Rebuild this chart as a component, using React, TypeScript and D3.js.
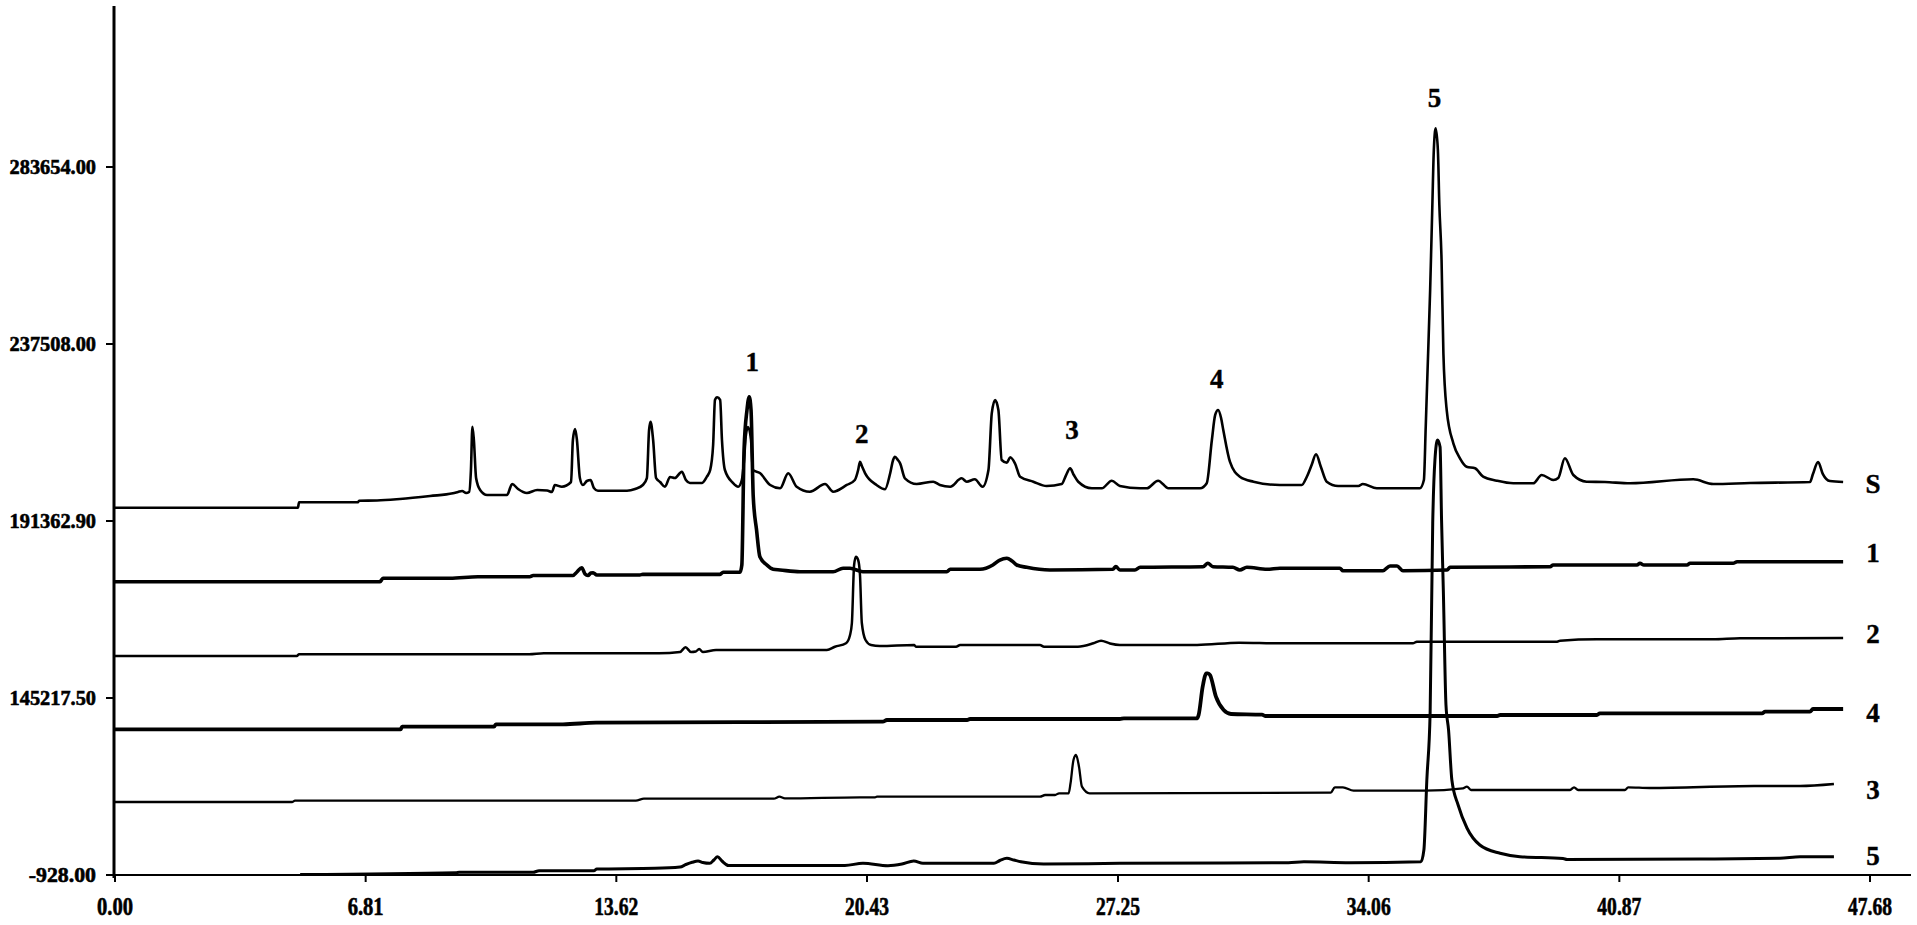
import React from 'react';
import * as d3 from 'd3';

const W = 1917;
const H = 925;

const xTickValues = [0, 6.81, 13.62, 20.43, 27.25, 34.06, 40.87, 47.68];
const xTickLabels = ['0.00', '6.81', '13.62', '20.43', '27.25', '34.06', '40.87', '47.68'];
const yTickValues = [-928, 145217.5, 191362.9, 237508, 283654];
const yTickLabels = ['-928.00', '145217.50', '191362.90', '237508.00', '283654.00'];

type Pt = [number, number];

const traceS: Pt[] = [
  [0, 194830], [4.97, 194830], [5.0, 196240], [6.6, 196240], [6.63, 196650], [7.12, 196710], [7.74, 197100], [8.56, 197880],
  [9.18, 198580], [9.32, 198920], [9.43, 199180], [9.54, 198660], [9.62, 198920], [9.67, 204660], [9.71, 215950], [9.75, 212480],
  [9.81, 202570], [9.92, 199440], [10.11, 198140], [10.65, 198140], [10.79, 201010], [10.95, 199700], [11.19, 198660], [11.47, 199440],
  [11.74, 199310], [11.87, 198920], [11.95, 200750], [12.14, 200300], [12.39, 201530], [12.44, 212480], [12.5, 215350], [12.55, 212480],
  [12.63, 202570], [12.71, 200750], [12.82, 201790], [12.92, 202050], [13.01, 199960], [13.12, 199260], [13.91, 199260], [14.13, 199700],
  [14.34, 200750], [14.45, 202570], [14.51, 215090], [14.55, 217250], [14.62, 212480], [14.7, 202570], [14.81, 201530], [14.94, 200300],
  [15.08, 202830], [15.21, 202570], [15.4, 204210], [15.51, 202050], [15.62, 201270], [15.95, 201270], [16.08, 202910], [16.17, 204660],
  [16.25, 211170], [16.3, 222910], [16.36, 223610], [16.44, 222910], [16.49, 212480], [16.57, 204660], [16.79, 201270], [16.93, 200300],
  [17.03, 202050], [17.09, 207260], [17.14, 213780], [17.2, 215870], [17.28, 212480], [17.33, 204660], [17.52, 203880], [17.8, 200750],
  [18.07, 199890], [18.29, 203800], [18.52, 200300], [18.88, 199000], [19.29, 201010], [19.51, 199000], [19.88, 200750], [20.1, 202050],
  [20.19, 204660], [20.24, 206820], [20.29, 205700], [20.38, 203800], [20.69, 200750], [20.92, 199630], [21.06, 203800], [21.14, 207260],
  [21.19, 208120], [21.27, 207260], [21.33, 206400], [21.46, 202490], [21.78, 201010], [22.23, 201610], [22.41, 200750], [22.69, 200300],
  [23.0, 202490], [23.14, 201610], [23.36, 202230], [23.57, 200300], [23.73, 204660], [23.82, 219440], [23.91, 222910], [24.0, 220300],
  [24.09, 207260], [24.23, 206560], [24.32, 207970], [24.45, 206400], [24.59, 202910], [24.95, 201610], [25.31, 200490], [25.72, 201010],
  [25.84, 203350], [25.95, 205100], [26.05, 203350], [26.17, 201610], [26.54, 199890], [26.81, 199890], [27.08, 201870], [27.3, 200490],
  [27.85, 199890], [28.03, 199890], [28.34, 201870], [28.62, 199890], [29.48, 199890], [29.66, 201190], [29.8, 212480], [29.89, 219000],
  [29.97, 220300], [30.05, 218210], [30.11, 215090], [30.29, 206820], [30.56, 202910], [30.93, 201610], [31.65, 200750], [32.24, 200750],
  [32.38, 202910], [32.51, 205960], [32.63, 208750], [32.76, 205520], [32.92, 201610], [33.23, 200490], [33.78, 200490], [33.9, 201010],
  [34.28, 199890], [35.45, 199890], [35.56, 202050], [35.61, 215950], [35.66, 230730], [35.73, 251580], [35.79, 273740], [35.83, 288080],
  [35.88, 293740], [35.94, 288080], [35.98, 273740], [36.04, 259400], [36.09, 235080], [36.18, 220300], [36.36, 211620], [36.54, 207710],
  [36.72, 205520], [36.95, 205100], [37.17, 202910], [37.54, 201870], [37.99, 201190], [38.53, 201190], [38.76, 203350], [39.08, 202050],
  [39.21, 202570], [39.39, 207710], [39.62, 203350], [39.98, 201610], [40.48, 201530], [41.16, 201190], [42.88, 202230], [43.42, 201010],
  [44.42, 201270], [46.05, 201530], [46.13, 203610], [46.27, 206740], [46.4, 203610], [46.59, 201790], [46.95, 201530],
];

const trace1: Pt[] = [
  [0, 175540], [7.2, 175540], [7.28, 176420], [9.1, 176420], [9.86, 176840], [11.27, 176840], [11.36, 177150], [12.44, 177150],
  [12.55, 178070], [12.68, 179190], [12.77, 177540], [12.85, 177150], [12.93, 177810], [12.99, 177880], [13.09, 177280], [14.26, 177280],
  [14.34, 177460], [16.44, 177460], [16.52, 177990], [16.98, 177990], [17.03, 179890], [17.09, 209870], [17.17, 220300], [17.23, 223770],
  [17.28, 220300], [17.34, 197700], [17.43, 189020], [17.52, 182050], [17.71, 179890], [17.88, 178770], [18.07, 178590], [18.61, 178140],
  [19.51, 178140], [19.78, 179030], [19.97, 179030], [20.32, 178140], [22.6, 178140], [22.69, 178770], [23.5, 178770], [23.85, 179890],
  [24.04, 181190], [24.23, 181640], [24.37, 180930], [24.5, 179890], [24.77, 179290], [25.4, 178590], [27.11, 178770], [27.19, 179500],
  [27.3, 178590], [27.71, 178590], [27.85, 179290], [29.56, 179450], [29.69, 180330], [29.83, 179450], [30.37, 179290], [30.56, 178590],
  [30.75, 179290], [31.3, 178770], [31.65, 179030], [33.28, 179030], [33.36, 178410], [34.45, 178410], [34.64, 179630], [34.83, 179630],
  [34.99, 178410], [36.19, 178590], [36.27, 179290], [38.99, 179450], [39.07, 179890], [41.35, 179890], [41.43, 180330], [41.54, 179890],
  [42.71, 179890], [42.79, 180330], [43.96, 180330], [44.07, 180750], [46.95, 180750],
];

const trace2: Pt[] = [
  [0, 156170], [4.94, 156170], [5.0, 156610], [11.25, 156610], [11.65, 156870], [14.78, 156870], [15.35, 157210], [15.5, 158440],
  [15.65, 157210], [15.78, 157340], [15.87, 157990], [15.97, 157210], [16.33, 157730], [19.34, 157730], [19.56, 158590], [19.86, 159480],
  [19.97, 161640], [20.02, 164770], [20.08, 179890], [20.13, 182050], [20.19, 181190], [20.24, 177280], [20.29, 164770], [20.39, 160340],
  [20.54, 159030], [20.78, 158770], [21.71, 159030], [21.76, 158590], [22.85, 158590], [22.96, 159030], [25.13, 159030], [25.24, 158590],
  [26.16, 158590], [26.58, 159480], [26.79, 160160], [27.03, 159430], [27.3, 159030], [29.4, 159030], [30.54, 159630], [31.65, 159480],
  [35.26, 159480], [35.37, 159900], [39.18, 159900], [39.26, 160160], [40.26, 160520], [43.41, 160520], [44.15, 160780], [46.95, 160860],
];

const trace4: Pt[] = [
  [0, 119380], [7.76, 119380], [7.8, 121530], [10.3, 121530], [10.35, 123510], [12.17, 123510], [13.07, 124830], [20.86, 125660],
  [20.97, 127060], [23.15, 127060], [23.23, 127880], [27.3, 127880], [27.41, 128460], [29.4, 128460], [29.44, 131180], [29.55, 148160],
  [29.65, 151660], [29.69, 151660], [29.75, 151210], [29.91, 145560], [30.12, 135310], [30.32, 132010], [31.16, 131430], [31.26, 130360],
  [37.55, 130360], [37.63, 131180], [40.26, 131180], [40.34, 132590], [44.75, 132590], [44.83, 133910], [46.05, 133910], [46.13, 136140],
  [46.95, 136140],
];

const trace3: Pt[] = [
  [0, 59350], [4.81, 59350], [4.89, 60420], [14.15, 60420], [14.37, 62070], [17.9, 62070], [18.05, 63720], [18.2, 62400],
  [20.24, 63230], [20.65, 63230], [20.7, 63720], [25.13, 63720], [25.27, 65130], [25.54, 65130], [25.65, 66530], [25.91, 66530],
  [25.96, 74790], [26.04, 94030], [26.11, 98160], [26.19, 88500], [26.27, 71990], [26.48, 66530], [33.03, 67030], [33.14, 71480],
  [33.36, 71480], [33.65, 68670], [35.59, 68670], [36.62, 70660], [36.73, 71990], [36.84, 69260], [39.53, 69260], [39.64, 71480],
  [39.75, 69260], [41.02, 69260], [41.11, 71480], [41.7, 70920], [44.53, 72560], [45.78, 72560], [46.7, 74210],
];

const trace5: Pt[] = [
  [5.03, -520], [9.26, 980], [9.35, 1310], [11.36, 1310], [11.52, 2620], [13.01, 2620], [13.09, 4030], [14.67, 4600],
  [15.35, 5680], [15.51, 7730], [15.68, 9550], [15.84, 10630], [15.97, 9390], [16.16, 8730], [16.27, 11460], [16.37, 14180],
  [16.49, 10630], [16.67, 6920], [19.83, 6920], [20.32, 8730], [21.0, 6750], [21.38, 8150], [21.7, 10630], [21.95, 8730],
  [23.88, 8730], [24.04, 11040], [24.23, 12860], [24.42, 11460], [24.61, 10050], [25.23, 8150], [27.3, 8730], [31.88, 9230],
  [32.3, 10050], [33.55, 9230], [35.48, 10050], [35.56, 19710], [35.64, 77510], [35.73, 133660], [35.8, 190840], [35.86, 207260],
  [35.93, 212480], [36.0, 210650], [36.04, 191620], [36.09, 172590], [36.16, 139440], [36.23, 118800], [36.32, 77510], [36.49, 56870],
  [36.73, 37880], [37.08, 23840], [37.63, 16990], [38.17, 14180], [39.34, 12690], [39.45, 11870], [43.06, 12280], [45.23, 12860],
  [45.78, 14180], [46.7, 14180],
];

const traceNames = ['S', '1', '2', '4', '3', '5'];
const traceData = [traceS, trace1, trace2, trace4, trace3, trace5];
const traceWidths = [2.6, 3.6, 2.5, 3.8, 2.3, 3];
const traceLabelValues = [201007, 183019, 161902, 132835, 69256, 14760];

const peakLabels = ['1', '2', '3', '4', '5'];
const peakLabelTimes = [17.31, 20.29, 26.0, 29.93, 35.85];
const peakLabelValues = [232813, 214042, 215085, 228381, 301690];

const FONT = "'Liberation Serif', 'Times New Roman', serif";

export default function App() {
  const plotLeft = 115;
  const plotRight = 1870;
  const plotBottom = 875;
  const yStep = 177;
  const axisTop = 6;
  const axisRight = 1911;

  const x = d3.scaleLinear().domain([0, 47.68]).range([plotLeft, plotRight]);
  const y = d3
    .scaleLinear()
    .domain(yTickValues)
    .range(yTickValues.map((_, i) => plotBottom - i * yStep));

  const line = d3
    .line<Pt>()
    .x((d) => x(d[0]))
    .y((d) => y(d[1]))
    .curve(d3.curveMonotoneX);

  const x0 = x(0);

  return (
    <svg
      width={W}
      height={H}
      style={{ position: 'absolute', left: 0, top: 0, background: '#fff' }}
      fontFamily={FONT}
    >
      <rect x={0} y={0} width={W} height={H} fill="#fff" />
      {traceData.map((d, i) => (
        <path
          key={traceNames[i]}
          d={line(d) || ''}
          fill="none"
          stroke="#000"
          strokeWidth={traceWidths[i]}
          strokeLinejoin="round"
        />
      ))}
      {/* axes */}
      <line x1={x0 - 1} x2={x0 - 1} y1={axisTop} y2={plotBottom + 3} stroke="#000" strokeWidth={3} />
      <line x1={x0 - 1} x2={axisRight} y1={plotBottom} y2={plotBottom} stroke="#000" strokeWidth={2.2} />
      {yTickValues.map((v, i) => (
        <g key={'y' + i}>
          <line x1={x0 - 9} x2={x0 - 1} y1={y(v)} y2={y(v)} stroke="#000" strokeWidth={2} />
          <text
            x={x0 - 19}
            y={y(v)}
            textAnchor="end"
            dominantBaseline="central"
            fontSize={21}
            fontWeight="bold"
            stroke="#000"
            strokeWidth={0.6}
            textLength={yTickLabels[i].length * 9.6}
            lengthAdjust="spacingAndGlyphs"
          >
            {yTickLabels[i]}
          </text>
        </g>
      ))}
      {xTickValues.map((v, i) => (
        <g key={'x' + i}>
          <line x1={x(v)} x2={x(v)} y1={plotBottom} y2={plotBottom + 7} stroke="#000" strokeWidth={2} />
          <text
            x={x(v)}
            y={plotBottom + 31}
            textAnchor="middle"
            dominantBaseline="central"
            fontSize={25}
            fontWeight="bold"
            stroke="#000"
            strokeWidth={0.6}
            textLength={xTickLabels[i].length > 4 ? 44 : 36}
            lengthAdjust="spacingAndGlyphs"
          >
            {xTickLabels[i]}
          </text>
        </g>
      ))}
      {traceNames.map((n, i) => (
        <text
          key={'n' + i}
          x={plotRight + 3}
          y={y(traceLabelValues[i])}
          textAnchor="middle"
          dominantBaseline="central"
          fontSize={27}
          fontWeight="bold"
          stroke="#000"
          strokeWidth={0.4}
        >
          {n}
        </text>
      ))}
      {peakLabels.map((n, i) => (
        <text
          key={'p' + i}
          x={x(peakLabelTimes[i])}
          y={y(peakLabelValues[i])}
          textAnchor="middle"
          dominantBaseline="central"
          fontSize={27}
          fontWeight="bold"
          stroke="#000"
          strokeWidth={0.4}
        >
          {n}
        </text>
      ))}
    </svg>
  );
}
